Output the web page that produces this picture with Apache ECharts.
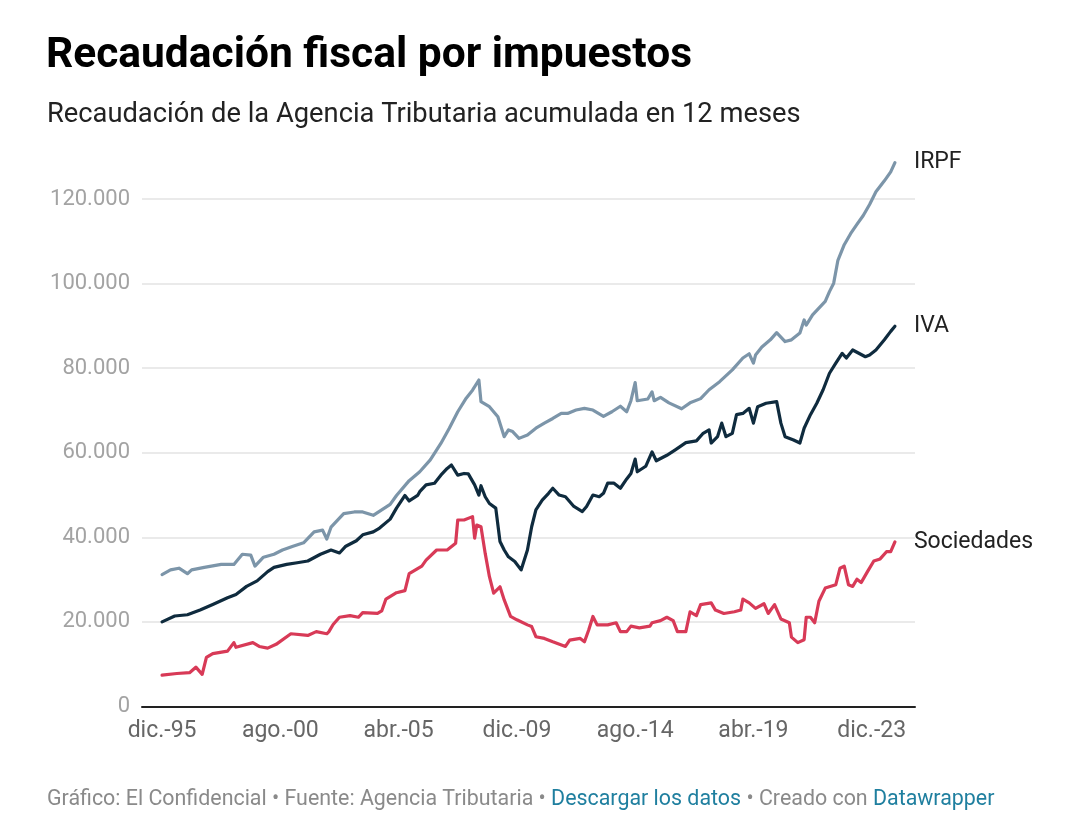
<!DOCTYPE html>
<html>
<head>
<meta charset="utf-8">
<title>Recaudación fiscal por impuestos</title>
<script src="https://cdn.jsdelivr.net/npm/echarts@6/dist/echarts.min.js"></script>
<style>
    html, body {margin: 0; padding: 0; background: #fff;}
    #chart {width: 1080px; height: 828px;}
</style>
</head>
<body>
<div id="chart"></div>
<script>
// meses contados desde dic.-95 (0)
var xTickMonths = [0, 56, 112, 168, 224, 280, 336];
var xTickLabels = ['dic.-95', 'ago.-00', 'abr.-05', 'dic.-09', 'ago.-14', 'abr.-19', 'dic.-23'];

var irpfMonths = [0,4,8,12,14,20,28,34,38,42,44,48,53,57,62,67,72,76,78,80,86,91,95,100,108,111,117,122,127,132,136,140,144,147,150,151,155,159,162,164,166,169,173,177,181,185,189,192,196,200,204,209,213,217,220,222,224,225,230,232,233,236,240,246,250,255,259,264,270,275,278,280,281,284,288,291,295,298,302,304,305,308,311,314,316,318,320,323,326,329,332,335,338,342,345,347];
var irpfValues = [31200,32300,32700,31400,32300,32900,33600,33600,36000,35800,33200,35300,36000,37000,37900,38700,41300,41700,39600,42400,45600,46000,46000,45200,47800,49900,53400,55500,58300,62200,65800,69700,72900,74800,77200,72100,70900,68500,63800,65400,65000,63400,64200,65800,67000,68100,69300,69300,70100,70500,70100,68600,69700,71000,69700,72300,76600,72300,72700,74400,72300,73100,71800,70400,71800,72800,74900,76800,79600,82400,83400,81200,83100,85000,86700,88400,86300,86700,88300,91400,90200,92600,94200,95800,98100,100100,105500,109200,111800,114000,116100,118700,121700,124300,126400,128600];

var ivaMonths = [0,6,12,18,24,31,35,40,45,50,53,59,64,69,75,80,84,87,92,95,100,103,108,111,115,117,121,122,125,129,132,135,137,140,143,145,148,150,151,153,155,158,160,162,164,167,170,173,175,177,180,183,185,188,191,195,199,201,204,207,209,211,214,217,220,222,224,225,229,232,234,239,243,248,253,256,259,260,263,265,267,270,272,275,278,280,282,286,291,293,295,299,302,304,307,310,313,316,319,322,324,327,333,335,338,342,345,347];
var ivaValues = [20000,21400,21700,22800,24100,25700,26500,28400,29700,31900,32900,33600,34000,34400,36000,37000,36300,37900,39200,40600,41300,42200,44300,46900,49900,48600,49900,50800,52400,52800,54700,56300,57100,54700,55100,55000,52400,50000,52200,49600,48000,46900,39000,37000,35400,34300,32300,37000,42500,46500,48800,50400,51600,50000,49600,47300,46100,47300,50000,49600,50400,52800,52800,51600,53800,55100,58500,55500,56800,60200,58100,59400,60700,62400,62800,64500,65400,62300,63800,67000,63800,64600,69000,69300,70500,67000,70900,71700,72100,67000,63800,63000,62300,65800,69000,71700,74900,78800,81200,83500,82400,84300,82700,83100,84300,86700,88700,89900];

var socMonths = [0,7,13,16,19,21,24,31,34,35,43,46,50,54,61,69,73,78,79,81,84,89,93,95,102,104,106,111,115,117,120,123,125,130,135,139,140,143,147,148,149,151,153,155,157,160,162,165,168,173,175,177,181,185,191,193,198,200,202,204,206,211,215,217,220,222,226,231,232,236,239,242,244,248,250,253,255,260,262,266,271,274,275,278,281,285,287,290,293,297,298,301,304,305,307,309,311,314,319,321,323,325,327,329,331,334,337,340,343,345,347];
var socValues = [7400,7800,8000,9300,7600,11600,12500,13100,15100,14000,15100,14200,13800,14700,17200,16800,17700,17200,17700,19400,21100,21500,21100,22200,22000,22600,25400,26900,27400,31400,32300,33200,34600,37000,37000,38600,44100,44100,44900,39800,42900,42500,36200,30700,26800,28300,25200,21300,20500,19300,18900,16500,16100,15300,14200,15700,16100,15300,18100,21300,19300,19300,19800,17700,17700,19000,18600,19000,19800,20300,21100,20300,17700,17700,22400,21500,24100,24500,22800,22000,22400,22800,25400,24500,23200,24300,22000,24100,20700,19800,16400,15100,15800,21100,21100,19800,24900,28000,28800,32700,33200,28800,28400,30100,29300,31900,34400,34900,36600,36600,38900];

var FONT = 'Roboto, "Noto Sans", sans-serif';

function pairs(months, values) {
    var out = [];
    for (var i = 0; i < months.length; i++) {
        out.push([months[i], values[i]]);
    }
    return out;
}

// 120000 -> "120.000"
function miles(v) {
    return String(v).replace(/\B(?=(\d{3})+(?!\d))/g, '.');
}

function lineSeries(name, color, months, values) {
    return {
        name: name,
        type: 'line',
        data: pairs(months, values),
        symbol: 'none',
        clip: false,
        lineStyle: {width: 3.2, color: color, join: 'round', cap: 'round'},
        endLabel: {
            show: true,
            formatter: '{a}',
            distance: 19,
            color: '#222',
            fontSize: 23,
            fontFamily: FONT
        },
        emphasis: {disabled: true}
    };
}

var chart = echarts.init(document.getElementById('chart'), null, {renderer: 'canvas'});

var option = {
    backgroundColor: '#fff',
    animation: false,
    textStyle: {fontFamily: FONT},
    grid: {left: 142, right: 165, top: 199, bottom: 121.5, containLabel: false},
    xAxis: {
        type: 'value',
        min: -9.5,
        max: 356.5,
        axisLine: {show: true, onZero: true, lineStyle: {color: '#222', width: 2}},
        axisTick: {show: false},
        splitLine: {show: false},
        axisLabel: {
            customValues: xTickMonths,
            color: '#666',
            fontSize: 23,
            fontFamily: FONT,
            margin: 13,
            formatter: function (v) {
                var i = xTickMonths.indexOf(v);
                return i >= 0 ? xTickLabels[i] : '';
            }
        }
    },
    yAxis: {
        type: 'value',
        min: 0,
        max: 120000,
        interval: 20000,
        axisLine: {show: false},
        axisTick: {show: false},
        splitLine: {lineStyle: {color: '#e3e3e3', width: 1.5}},
        axisLabel: {
            color: '#a3a3a3',
            fontSize: 22,
            fontFamily: FONT,
            margin: 12,
            formatter: function (v) { return miles(v); }
        }
    },
    series: [
        lineSeries('IRPF', '#7c95a9', irpfMonths, irpfValues),
        lineSeries('IVA', '#0f2b3e', ivaMonths, ivaValues),
        lineSeries('Sociedades', '#d83a57', socMonths, socValues)
    ],
    graphic: [
        {
            type: 'text', x: 46, y: 56,
            style: {
                text: 'Recaudación fiscal por impuestos',
                font: 'bold 42.5px ' + FONT,
                fill: '#000',
                textVerticalAlign: 'middle', verticalAlign: 'middle'
            }
        },
        {
            type: 'text', x: 47, y: 115,
            style: {
                text: 'Recaudación de la Agencia Tributaria acumulada en 12 meses',
                font: '27.3px ' + FONT,
                fill: '#222',
                textVerticalAlign: 'middle', verticalAlign: 'middle'
            }
        },
        {
            type: 'text', x: 47, y: 800,
            style: {
                text: '{g|Gráfico: El Confidencial • Fuente: Agencia Tributaria • }{l|Descargar los datos}{g| • Creado con }{l|Datawrapper}',
                font: '21.4px ' + FONT,
                textVerticalAlign: 'middle', verticalAlign: 'middle',
                rich: {
                    g: {fill: '#8a8a8a', color: '#8a8a8a', fontSize: 21.4, fontFamily: FONT},
                    l: {fill: '#1f7f9f', color: '#1f7f9f', fontSize: 21.4, fontFamily: FONT}
                }
            }
        }
    ]
};

chart.setOption(option);
</script>
</body>
</html>
